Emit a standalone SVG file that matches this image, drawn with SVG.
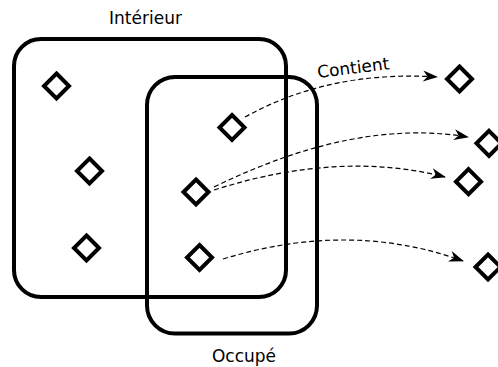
<svg xmlns="http://www.w3.org/2000/svg" width="498" height="367" viewBox="0 0 498 367">
  <style>
    .region { fill: none; stroke: #000; stroke-width: 4; }
    .item { fill: none; stroke: #000; stroke-width: 4; stroke-linejoin: miter; }
    .link { fill: none; stroke: #000; stroke-width: 1.2; stroke-dasharray: 5 3; marker-end: url(#head); }
    .label { font-family: "DejaVu Sans", sans-serif; font-size: 17px; fill: #000; }
  </style>
  <defs>
    <path id="dia" d="M0,-12.5 L12.5,0 L0,12.5 L-12.5,0 Z"/>
    <marker id="head" markerUnits="userSpaceOnUse" viewBox="-16 -7 18 14" refX="0" refY="0" markerWidth="18" markerHeight="14" orient="auto">
      <path d="M1,0 L-14,-5.5 L-9.5,0 L-14,5.5 Z" fill="#000"/>
    </marker>
  </defs>

  <!-- Sets -->
  <g id="interieur">
    <rect class="region" x="14" y="39" width="272" height="258" rx="27"/>
    <text class="label" x="145.5" y="24" text-anchor="middle">Intérieur</text>
  </g>
  <g id="occupe">
    <rect class="region" x="147" y="77" width="170" height="256.5" rx="28"/>
    <text class="label" x="244" y="362" text-anchor="middle">Occupé</text>
  </g>

  <!-- Elements inside the sets -->
  <g id="a1"><use href="#dia" class="item" x="56.5" y="86"/></g>
  <g id="a2"><use href="#dia" class="item" x="89.5" y="171"/></g>
  <g id="a3"><use href="#dia" class="item" x="86.5" y="248"/></g>
  <g id="b1"><use href="#dia" class="item" x="232" y="127.5"/></g>
  <g id="b2"><use href="#dia" class="item" x="196" y="192"/></g>
  <g id="b3"><use href="#dia" class="item" x="199.5" y="257.5"/></g>

  <!-- Targets on the right -->
  <g id="c1"><use href="#dia" class="item" x="459.5" y="79"/></g>
  <g id="c2"><use href="#dia" class="item" x="489" y="143.3"/></g>
  <g id="c3"><use href="#dia" class="item" x="468.5" y="181.7"/></g>
  <g id="c4"><use href="#dia" class="item" x="488" y="267"/></g>

  <!-- Containment links -->
  <g id="links">
    <path class="link" d="M245,117 Q330,70 437,77"/>
    <path class="link" d="M214,187 Q355,118 468,137"/>
    <path class="link" d="M214,190 Q340,150 445,177"/>
    <path class="link" d="M223,259 Q350,220 463,261"/>
    <text class="label" transform="translate(318,78) rotate(-7)">Contient</text>
  </g>
</svg>
